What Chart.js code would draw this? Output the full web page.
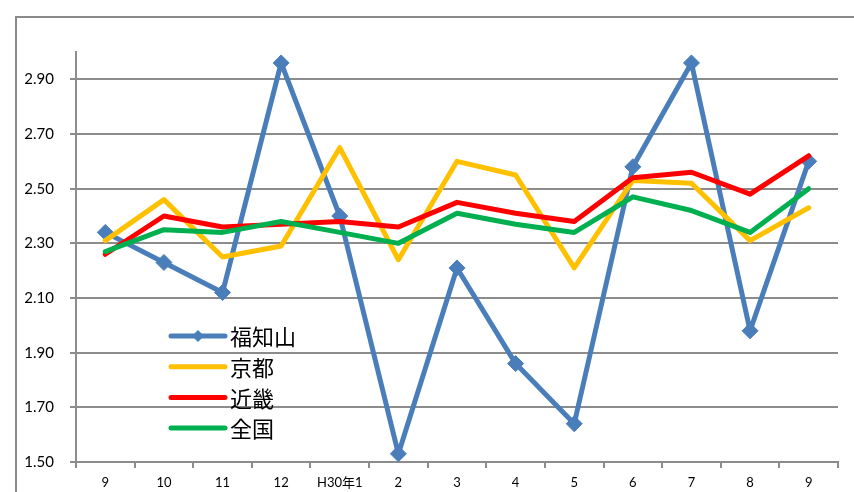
<!DOCTYPE html>
<html>
<head>
<meta charset="utf-8">
<script src="https://cdn.jsdelivr.net/npm/chart.js@4"></script>
<style>
  html, body { margin: 0; padding: 0; background: #fff; overflow: hidden; }
  #wrap { position: relative; width: 854px; height: 492px; }
</style>
</head>
<body>
<div id="wrap"><canvas id="chart" width="854" height="492"></canvas></div>
<script>
// 月別の値
const labels = ['9', '10', '11', '12', 'H30年1', '2', '3', '4', '5', '6', '7', '8', '9'];
const fukuchiyama = [2.34, 2.23, 2.12, 2.96, 2.40, 1.53, 2.21, 1.86, 1.64, 2.58, 2.96, 1.98, 2.60];
const kyoto = [2.31, 2.46, 2.25, 2.29, 2.65, 2.24, 2.60, 2.55, 2.21, 2.53, 2.52, 2.31, 2.43];
const kinki = [2.26, 2.40, 2.36, 2.37, 2.38, 2.36, 2.45, 2.41, 2.38, 2.54, 2.56, 2.48, 2.62];
const zenkoku = [2.27, 2.35, 2.34, 2.38, 2.34, 2.30, 2.41, 2.37, 2.34, 2.47, 2.42, 2.34, 2.50];
const yTicks = [1.50, 1.70, 1.90, 2.10, 2.30, 2.50, 2.70, 2.90];

const gridGray = '#8c8c8c';

// 外枠
const frame = {
    id: 'frame',
    beforeDraw(chart) {
        const ctx = chart.ctx;
        ctx.save();
        ctx.strokeStyle = '#8a8a8a';
        ctx.lineWidth = 2;
        ctx.strokeRect(16, 17, 900, 600);
        ctx.restore();
    }
};

// 凡例 (グラフ内の左下)
const insideLegend = {
    id: 'insideLegend',
    afterDraw(chart) {
        const ctx = chart.ctx;
        const x0 = 171, x1 = 225, textX = 230;
        let y = 336;
        ctx.save();
        chart.data.datasets.forEach(ds => {
            ctx.strokeStyle = ds.borderColor;
            ctx.lineWidth = 5;
            ctx.lineCap = 'round';
            ctx.beginPath();
            ctx.moveTo(x0, y);
            ctx.lineTo(x1, y);
            ctx.stroke();
            if (ds.pointRadius > 0) {
                const r = 6;
                const cx = (x0 + x1) / 2;
                ctx.fillStyle = ds.pointBackgroundColor;
                ctx.beginPath();
                ctx.moveTo(cx, y - r);
                ctx.lineTo(cx + r, y);
                ctx.lineTo(cx, y + r);
                ctx.lineTo(cx - r, y);
                ctx.closePath();
                ctx.fill();
            }
            ctx.fillStyle = '#000';
            ctx.font = '22px "Noto Sans CJK JP"';
            ctx.textBaseline = 'middle';
            ctx.textAlign = 'left';
            ctx.fillText(ds.label, textX, y + 1);
            y += 30.7;
        });
        ctx.restore();
    }
};

new Chart(document.getElementById('chart'), {
    type: 'line',
    data: {
        labels: labels,
        datasets: [
            {
                label: '福知山',
                data: fukuchiyama,
                borderColor: '#4a7ebb',
                backgroundColor: '#4a7ebb',
                pointBackgroundColor: '#4a7ebb',
                pointBorderColor: '#4a7ebb',
                pointStyle: 'rectRot',
                pointRadius: 8,
                pointBorderWidth: 1,
                borderWidth: 5,
                order: 4
            },
            {
                label: '京都',
                data: kyoto,
                borderColor: '#ffc000',
                backgroundColor: '#ffc000',
                pointRadius: 0,
                borderWidth: 5,
                order: 3
            },
            {
                label: '近畿',
                data: kinki,
                borderColor: '#ff0000',
                backgroundColor: '#ff0000',
                pointRadius: 0,
                borderWidth: 5,
                order: 2
            },
            {
                label: '全国',
                data: zenkoku,
                borderColor: '#00b050',
                backgroundColor: '#00b050',
                pointRadius: 0,
                borderWidth: 5,
                order: 1
            }
        ]
    },
    options: {
        responsive: false,
        animation: false,
        devicePixelRatio: 1,
        elements: {
            line: { tension: 0, borderJoinStyle: 'round', borderCapStyle: 'round' }
        },
        layout: {
            padding: { left: 16, top: 52, right: 16, bottom: 0 }
        },
        plugins: {
            legend: { display: false },
            tooltip: { enabled: false }
        },
        scales: {
            x: {
                offset: true,
                grid: {
                    offset: true,
                    drawOnChartArea: false,
                    drawTicks: true,
                    tickLength: 6,
                    color: gridGray,
                    lineWidth: 2
                },
                border: { display: true, color: gridGray, width: 2 },
                ticks: {
                    color: '#000',
                    padding: 7,
                    maxRotation: 0,
                    autoSkip: false,
                    font: { family: 'Lato, "Noto Sans CJK JP"', size: 13 }
                },
                afterFit(scale) {
                    scale.height = 30;
                }
            },
            y: {
                min: 1.5,
                max: 3.0,
                afterBuildTicks(scale) {
                    scale.ticks = yTicks.map(v => ({ value: v }));
                },
                grid: {
                    color: gridGray,
                    lineWidth: 2,
                    tickLength: 6
                },
                border: { display: true, color: gridGray, width: 2 },
                ticks: {
                    color: '#000',
                    padding: 16,
                    font: { family: 'Lato', size: 15 },
                    callback: v => Number(v).toFixed(2)
                },
                afterFit(scale) {
                    scale.width = 60;
                }
            }
        }
    },
    plugins: [frame, insideLegend]
});
</script>
</body>
</html>
